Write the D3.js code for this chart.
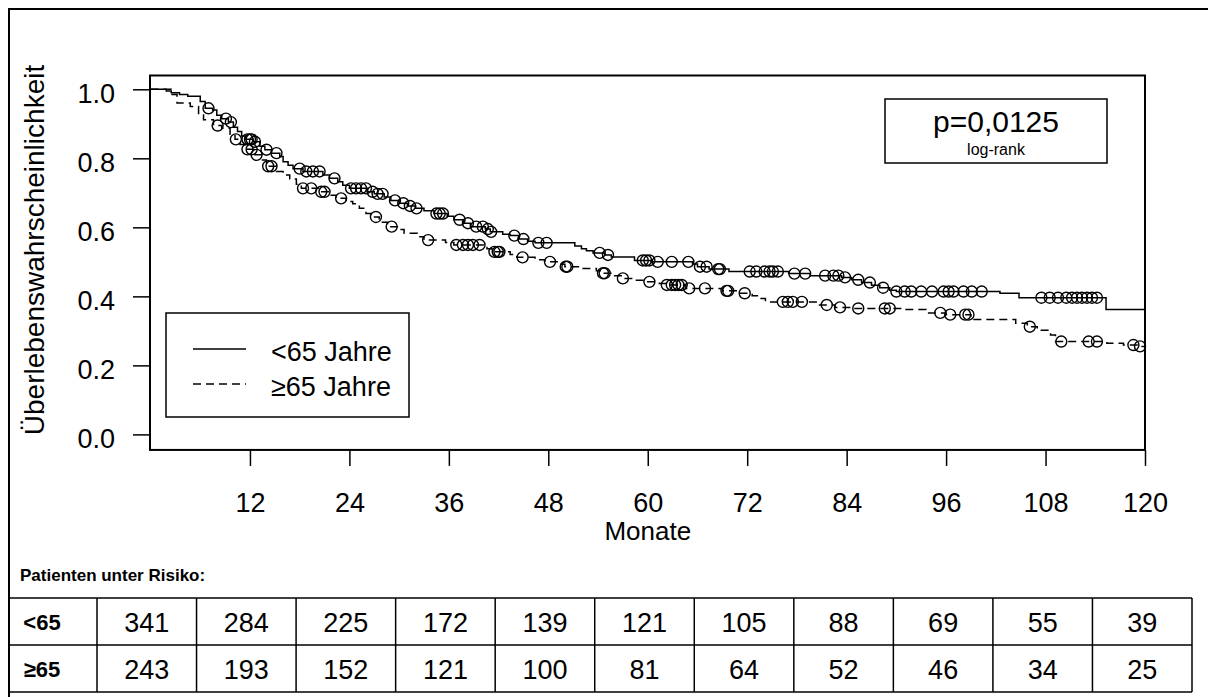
<!DOCTYPE html>
<meta charset="utf-8">
<head>
<title>Kaplan-Meier Überleben nach Alter</title>
<script src="https://cdn.jsdelivr.net/npm/d3@7"></script>
</head>
<style>
html, body { margin: 0; background: #fff; overflow: hidden; }
svg { display: block; }
text { font-family: "Liberation Sans", Arial, sans-serif; fill: #000; }
.axis path { display: none; }
.axis line { stroke: #000; stroke-width: 1.5px; }
.curve { fill: none; stroke: #000; stroke-width: 1.5px; }
.censor { fill: none; stroke: #000; stroke-width: 1.4px; }
</style>
<body>
<script>

// --- data ---
var monthTicks = [12, 24, 36, 48, 60, 72, 84, 96, 108, 120];
var survTicks = [0, 0.2, 0.4, 0.6, 0.8, 1.0];

// <65 Jahre: step times (months) and survival after each step
var youngT = [0, 1.9, 2.5, 3.5, 4.5, 6.0, 6.6, 7.5, 8.0, 8.6, 9.4, 10.0, 10.5, 11.0, 11.5, 12.4, 13.2, 13.8, 14.6, 15.6,
  16.0, 16.6, 17.2, 18.4, 20.8, 21.6, 22.6, 23.2, 24.0, 26.2, 27.0, 28.2, 29.0, 30.0, 31.0, 32.0, 33.0, 34.2, 35.8,
  36.6, 37.8, 38.6, 40.4, 41.0, 42.5, 43.4, 44.5, 45.5, 46.4, 51.2, 52.0, 52.6, 53.4, 54.8, 55.6, 58.4, 60.4, 65.4,
  66.0, 67.4, 69.8, 77.0, 79.6, 83.4, 84.6, 85.8, 87.0, 88.0, 89.2, 90.0, 102.5, 104.8, 115.3];
var youngS = [1.0, 0.995, 0.99, 0.985, 0.98, 0.965, 0.945, 0.94, 0.925, 0.915, 0.905, 0.89, 0.878, 0.865, 0.855, 0.848,
  0.835, 0.825, 0.815, 0.805, 0.79, 0.78, 0.77, 0.762, 0.752, 0.742, 0.732, 0.722, 0.713, 0.703, 0.697, 0.688, 0.678,
  0.67, 0.662, 0.655, 0.648, 0.64, 0.632, 0.622, 0.612, 0.602, 0.595, 0.587, 0.58, 0.576, 0.566, 0.56, 0.555, 0.546,
  0.538, 0.532, 0.526, 0.52, 0.514, 0.504, 0.5, 0.494, 0.486, 0.479, 0.472, 0.466, 0.46, 0.455, 0.448, 0.44, 0.432,
  0.425, 0.418, 0.414, 0.409, 0.396, 0.362];
var youngCensor = [7.0, 9.1, 9.7, 11.7, 12.0, 12.2, 12.6, 14.0, 15.2, 18.0, 18.8, 19.6, 20.4, 22.2, 24.2, 24.8, 25.4,
  26.0, 26.8, 27.4, 28.0, 29.5, 30.5, 31.3, 32.1, 34.5, 34.9, 35.3, 37.3, 38.3, 39.3, 40.1, 40.7, 41.1, 43.9, 45.0,
  46.8, 47.8, 54.2, 55.2, 59.4, 59.8, 60.2, 61.2, 62.9, 64.9, 66.3, 67.1, 68.5, 68.7, 72.3, 73.1, 74.1, 74.7, 75.1,
  75.7, 77.7, 79.0, 81.4, 82.4, 83.0, 83.8, 85.4, 86.8, 88.4, 90.0, 91.0, 91.8, 93.0, 94.3, 95.7, 96.3, 96.9, 98.1,
  99.1, 100.3, 107.5, 108.5, 109.5, 110.5, 111.2, 111.8, 112.4, 113.0, 113.6, 114.2];

// >=65 Jahre
var oldT = [0, 2.5, 3.2, 4.8, 5.8, 6.4, 7.6, 8.6, 9.6, 10.2, 10.8, 11.4, 12.6, 13.4, 14.0, 15.2, 16.0, 16.8, 17.6, 18.2,
  20.4, 21.8, 22.4, 23.6, 24.4, 25.2, 26.0, 26.6, 27.6, 28.6, 29.8, 30.6, 32.2, 33.0, 35.6, 36.6, 40.6, 41.2, 43.4,
  44.2, 46.4, 47.6, 49.4, 50.0, 52.0, 53.8, 54.4, 56.0, 56.8, 58.4, 59.4, 61.4, 62.2, 64.6, 69.0, 71.0, 72.6, 73.4,
  74.2, 80.6, 82.6, 85.0, 91.0, 93.6, 96.0, 99.0, 104.4, 105.8, 107.0, 108.6, 109.2, 115.4, 117.4, 119.4];
var oldS = [1.0, 0.985, 0.96, 0.95, 0.93, 0.912, 0.895, 0.887, 0.87, 0.855, 0.84, 0.826, 0.81, 0.795, 0.777, 0.762,
  0.752, 0.74, 0.725, 0.713, 0.703, 0.693, 0.684, 0.675, 0.668, 0.655, 0.64, 0.63, 0.615, 0.602, 0.594, 0.583, 0.573,
  0.563, 0.556, 0.549, 0.538, 0.529, 0.521, 0.513, 0.506, 0.5, 0.493, 0.486, 0.481, 0.474, 0.467, 0.46, 0.452, 0.447,
  0.442, 0.437, 0.433, 0.423, 0.416, 0.409, 0.402, 0.394, 0.384, 0.375, 0.368, 0.365, 0.362, 0.352, 0.347, 0.333,
  0.322, 0.312, 0.302, 0.288, 0.269, 0.264, 0.259, 0.255];
var oldCensor = [8.1, 10.3, 11.7, 12.2, 12.8, 14.2, 14.6, 18.4, 19.4, 20.6, 21.0, 23.0, 27.2, 29.1, 33.5, 36.9, 37.7,
  38.3, 38.9, 39.7, 41.5, 41.9, 42.1, 44.9, 48.2, 50.1, 50.3, 54.6, 54.8, 57.0, 60.2, 62.3, 62.9, 63.3, 63.7, 64.1,
  65.0, 66.9, 69.5, 69.7, 71.7, 76.3, 76.9, 77.5, 78.6, 81.6, 83.2, 85.4, 88.6, 89.2, 95.3, 96.5, 98.3, 98.7, 106.1,
  109.9, 113.2, 114.2, 118.6, 119.4];

var groupNames = ["<65 Jahre", "\u226565 Jahre"];
var riskLabels = ["<65", "\u226565"];
var riskYoung = [341, 284, 225, 172, 139, 121, 105, 88, 69, 55, 39];
var riskOld = [243, 193, 152, 121, 100, 81, 64, 52, 46, 34, 25];

// --- layout ---
var W = 1208, H = 697;
var svg = d3.select("body").append("svg").attr("width", W).attr("height", H);

var x = d3.scaleLinear().domain([0, 120]).range([150.5, 1145]);
var y = d3.scaleLinear().domain([0, 1]).range([434.4, 89.3]);

// outer frame (right and bottom run off the picture)
svg.append("rect").attr("x", 9).attr("y", 9).attr("width", 1260).attr("height", 760)
    .attr("fill", "none").attr("stroke", "#000").attr("stroke-width", 2);

// plot box
var boxTop = y(1.04), boxBottom = y(-0.045);
svg.append("rect").attr("x", x(0) - 0.5).attr("y", boxTop)
    .attr("width", x(120) - x(0) + 0.5).attr("height", boxBottom - boxTop)
    .attr("fill", "none").attr("stroke", "#000").attr("stroke-width", 2);

// axes
var yAxis = svg.append("g").attr("class", "axis").attr("transform", "translate(" + (x(0) - 0.5) + ",0)")
    .call(d3.axisLeft(y).tickValues(survTicks).tickFormat(d3.format(".1f")).tickSize(17).tickPadding(18));
yAxis.selectAll("text").attr("font-size", 27).attr("dy", "0.5em");

var xAxis = svg.append("g").attr("class", "axis").attr("transform", "translate(0," + boxBottom + ")")
    .call(d3.axisBottom(x).tickValues(monthTicks).tickFormat(d3.format("d")).tickSize(16).tickPadding(27));
xAxis.selectAll("text").attr("font-size", 27);

svg.append("text").attr("x", (x(0) + x(120)) / 2).attr("y", 540)
    .attr("text-anchor", "middle").attr("font-size", 26).text("Monate");

svg.append("text").attr("transform", "translate(44," + 250 + ") rotate(-90)")
    .attr("text-anchor", "middle").attr("font-size", 28).text("Überlebenswahrscheinlichkeit");

// curves
function stepPoints(T, S) {
  var pts = T.map(function (t, i) { return [t, S[i]]; });
  pts.push([120, S[S.length - 1]]);
  return pts;
}
function survAt(T, S, t) {
  var i = d3.bisectRight(T, t) - 1;
  return S[Math.max(i, 0)];
}
var line = d3.line().x(function (d) { return x(d[0]); }).y(function (d) { return y(d[1]); })
    .curve(d3.curveStepAfter);

var groups = [
  { T: youngT, S: youngS, C: youngCensor, dash: null },
  { T: oldT, S: oldS, C: oldCensor, dash: "8,5" }
];

groups.forEach(function (g) {
  svg.append("path").attr("class", "curve").attr("d", line(stepPoints(g.T, g.S)))
      .attr("stroke-dasharray", g.dash);
  svg.append("g").selectAll("circle").data(g.C).enter().append("circle")
      .attr("class", "censor")
      .attr("cx", function (d) { return x(d); })
      .attr("cy", function (d) { return y(survAt(g.T, g.S, d)); })
      .attr("r", 5.5);
});

// legend
var leg = svg.append("g");
leg.append("rect").attr("x", 166).attr("y", 313).attr("width", 243).attr("height", 104)
    .attr("fill", "#fff").attr("stroke", "#000").attr("stroke-width", 1.5);
groupNames.forEach(function (name, i) {
  var ly = 349 + i * 35;
  leg.append("line").attr("x1", 193).attr("x2", 246).attr("y1", ly).attr("y2", ly)
      .attr("stroke", "#000").attr("stroke-width", 1.5).attr("stroke-dasharray", groups[i].dash);
  leg.append("text").attr("x", 271).attr("y", ly + 12).attr("font-size", 27).text(name);
});

// p-value box
svg.append("rect").attr("x", 885).attr("y", 99).attr("width", 222).attr("height", 64)
    .attr("fill", "#fff").attr("stroke", "#000").attr("stroke-width", 1.5);
svg.append("text").attr("x", 996).attr("y", 132).attr("text-anchor", "middle")
    .attr("font-size", 30).text("p=0,0125");
svg.append("text").attr("x", 996).attr("y", 155).attr("text-anchor", "middle")
    .attr("font-size", 16).text("log-rank");

// risk table
svg.append("text").attr("x", 20).attr("y", 581).attr("font-size", 17).attr("font-weight", "bold")
    .text("Patienten unter Risiko:");

var colX = d3.scaleLinear().domain([0, 11]).range([97, 1192]);
var tTop = 598, rowH = 47;
var rows = [riskYoung, riskOld];
var table = svg.append("g");
rows.forEach(function (vals, r) {
  var ry = tTop + r * rowH;
  table.append("text").attr("x", 42).attr("y", ry + rowH / 2 + 8).attr("text-anchor", "middle")
      .attr("font-size", 22).attr("font-weight", "bold").text(riskLabels[r]);
  vals.forEach(function (v, k) {
    table.append("text").attr("x", (colX(k) + colX(k + 1)) / 2).attr("y", ry + rowH / 2 + 10)
        .attr("text-anchor", "middle").attr("font-size", 27).text(v);
  });
});
[0, 1, 2].forEach(function (r) {
  table.append("line").attr("x1", 9).attr("x2", colX(11)).attr("y1", tTop + r * rowH).attr("y2", tTop + r * rowH)
      .attr("stroke", "#000").attr("stroke-width", 1.5);
});
d3.range(12).forEach(function (k) {
  table.append("line").attr("x1", colX(k)).attr("x2", colX(k)).attr("y1", tTop).attr("y2", tTop + 2 * rowH)
      .attr("stroke", "#000").attr("stroke-width", 1.5);
});

</script>
</body>
